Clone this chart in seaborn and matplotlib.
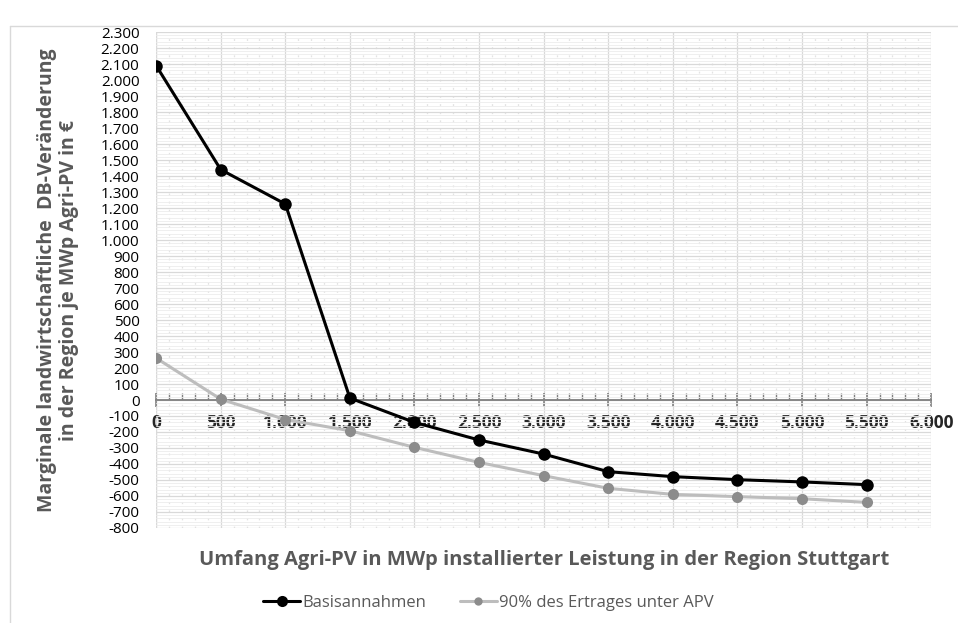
import matplotlib
matplotlib.use("Agg")
import matplotlib.pyplot as plt
import seaborn as sns
import pandas as pd
import numpy as np
from matplotlib.ticker import MultipleLocator, FuncFormatter

x_vals = [0, 500, 1000, 1500, 2000, 2500, 3000, 3500, 4000, 4500, 5000, 5500]
basis = [2090, 1440, 1225, 12, -140, -250, -338, -448, -479, -498, -512, -529]
apv = [262, 5, -122, -192, -296, -390, -473, -552, -590, -604, -617, -640]
series_names = ["Basisannahmen", "90% des Ertrages unter APV"]

df = pd.DataFrame({
    "x": x_vals * 2,
    "y": basis + apv,
    "Serie": [series_names[0]] * len(x_vals) + [series_names[1]] * len(x_vals),
})

sns.set_style("white")
plt.rcParams['font.family'] = ['Open Sans', 'DejaVu Sans']

fig = plt.figure(figsize=(9.58, 6.23), dpi=100)
ax = fig.add_axes([0.163, 0.1525, 0.809, 0.7961])

# figure frame lines
fig.add_artist(plt.Line2D([10/958, 10/958], [0, 1 - 26/623], color="#d9d9d9", lw=1))
fig.add_artist(plt.Line2D([10/958, 1], [1 - 26/623, 1 - 26/623], color="#d9d9d9", lw=1))

sns.lineplot(data=df, x="x", y="y", hue="Serie", palette=["#000000", "#bdbdbd"],
             marker="o", markersize=9, linewidth=2.2, markeredgewidth=0, ax=ax,
             legend=False)
ax.lines[1].set_markerfacecolor("#8c8c8c")
ax.lines[1].set_markersize(8)

ax.set_xlim(0, 6000)
ax.set_ylim(-800, 2300)
ax.xaxis.set_major_locator(MultipleLocator(500))
ax.xaxis.set_minor_locator(MultipleLocator(100))
ax.yaxis.set_major_locator(MultipleLocator(100))
ax.yaxis.set_minor_locator(MultipleLocator(20))

fmt = FuncFormatter(lambda v, p: f"{int(round(v)):,}".replace(",", "."))
ax.xaxis.set_major_formatter(fmt)
ax.yaxis.set_major_formatter(fmt)

ax.grid(which="major", axis="both", color="#d9d9d9", lw=0.9)
ax.grid(which="minor", axis="y", color="#ececec", lw=0.6)
ax.grid(which="minor", axis="x", color="#e3e3e3", lw=0.9, linestyle=(0, (1.5, 5)))
ax.set_axisbelow(True)

for s in ["top", "right", "left"]:
    ax.spines[s].set_visible(False)
ax.spines["bottom"].set_position(("data", 0))
ax.spines["bottom"].set_color("#808080")
ax.spines["bottom"].set_linewidth(1.3)
ax.spines["bottom"].set_zorder(1.5)
ax.plot([0, 0], [-800, 2300], color="#d9d9d9", lw=0.9, zorder=0)

ax.tick_params(axis="x", which="both", bottom=True)
ax.tick_params(axis="x", which="major", direction="inout", length=10, color="#808080",
               labelsize=12.5, pad=5, width=1.2)
ax.tick_params(axis="x", which="minor", direction="in", length=5, color="#808080", width=1)
ax.tick_params(axis="y", which="both", length=0, labelsize=11, pad=12, labelcolor="#000000")
for lbl in ax.get_xticklabels():
    lbl.set_fontweight("bold")

ax.set_xlabel("Umfang Agri-PV in MWp installierter Leistung in der Region Stuttgart",
              fontsize=14.5, fontweight="bold", color="#595959", labelpad=0)
ax.xaxis.set_label_coords(0.5, -0.045)
ax.set_ylabel("Marginale landwirtschaftliche  DB-Veränderung\nin der Region je MWp Agri-PV in €",
              fontsize=14, fontweight="bold", color="#595959", labelpad=10,
              linespacing=1.1)
ax.yaxis.set_label_coords(-0.1, 0.5)

handles = [plt.Line2D([], [], color="#000000", lw=2.2, marker="o", markersize=8, markeredgewidth=0),
           plt.Line2D([], [], color="#bdbdbd", lw=2.2, marker="o", markersize=6,
                      markerfacecolor="#8c8c8c", markeredgewidth=0)]
fig.legend(handles, series_names, loc="center", bbox_to_anchor=(0.51, 0.032), ncol=2,
           frameon=False, fontsize=12, handlelength=2.2, columnspacing=2.0,
           handletextpad=0.15, labelcolor="#595959")

fig.savefig("out.png", dpi=100)
